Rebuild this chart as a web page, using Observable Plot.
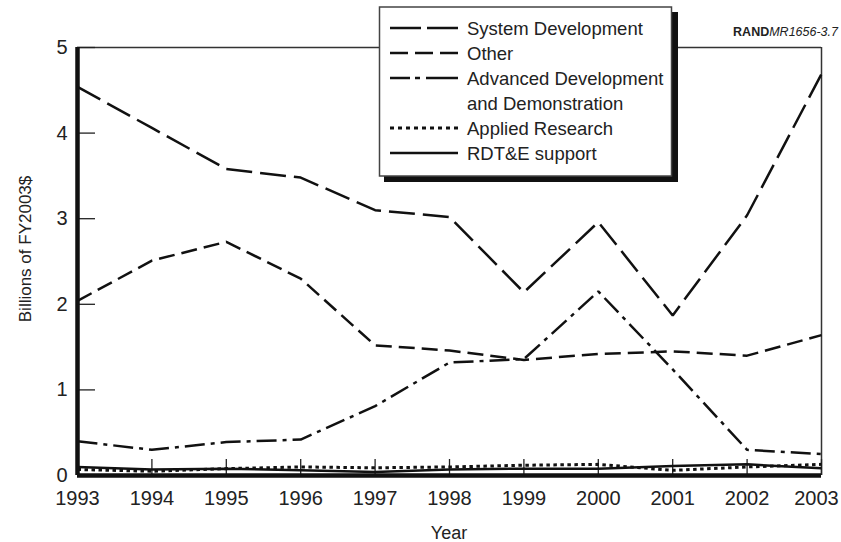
<!DOCTYPE html>
<html>
<head>
<meta charset="utf-8">
<script src="https://cdn.jsdelivr.net/npm/d3@7"></script>
<script src="https://cdn.jsdelivr.net/npm/@observablehq/plot@0.6"></script>
<style>
  html, body { margin: 0; padding: 0; background: #fff; }
  body { width: 841px; height: 542px; overflow: hidden; }
</style>
</head>
<body>
<div id="chart"></div>
<script>
// ---- Data ----
const years = [1993, 1994, 1995, 1996, 1997, 1998, 1999, 2000, 2001, 2002, 2003];
const systemDevelopment = [4.54, 4.06, 3.58, 3.48, 3.10, 3.02, 2.14, 2.96, 1.87, 3.04, 4.69];
const other             = [2.04, 2.51, 2.73, 2.30, 1.52, 1.46, 1.35, 1.42, 1.45, 1.40, 1.64];
const advancedDev       = [0.40, 0.30, 0.39, 0.42, 0.81, 1.32, 1.36, 2.15, 1.24, 0.30, 0.25];
const appliedResearch   = [0.07, 0.05, 0.08, 0.10, 0.09, 0.10, 0.12, 0.13, 0.06, 0.10, 0.13];
const rdteSupport       = [0.10, 0.07, 0.08, 0.06, 0.04, 0.07, 0.08, 0.08, 0.11, 0.13, 0.085];
const yTicks = [0, 1, 2, 3, 4, 5];

const seriesNames = ["System Development", "Other", "Advanced Development\nand Demonstration", "Applied Research", "RDT&E support"];
const seriesValues = [systemDevelopment, other, advancedDev, appliedResearch, rdteSupport];
const chartDash   = ["26,8", "16,7", "20,6,4,6", "3.5,3.5", null];
const legendDash  = ["31,6", "18,7", "20,5,5,6,40", "4,4", null];
const lineWidths  = [2.5, 2.5, 2.5, 3, 2.5];

const W = 841, H = 542;
const mL = 77, mR = 20, mT = 47, mB = 67;
const plotW = W - mL - mR, plotH = H - mT - mB;

const table = (vals) => years.map((y, i) => ({year: y, value: vals[i]}));

const lineMarks = seriesValues.map((vals, k) =>
  Plot.line(table(vals), {
    x: "year", y: "value",
    stroke: "#111",
    strokeWidth: lineWidths[k],
    strokeDasharray: chartDash[k] || undefined,
    strokeLinejoin: "miter",
    strokeLinecap: "butt"
  })
);

const fmt = d => String(d);

const chart = Plot.plot({
  width: W, height: H,
  marginLeft: mL, marginRight: mR, marginTop: mT, marginBottom: mB,
  style: {fontFamily: "'Liberation Sans', Arial, Helvetica, sans-serif", fontSize: "20px", color: "#222", background: "#fff"},
  x: {domain: [1993, 2003], label: null},
  y: {domain: [0, 5], label: null},
  marks: [
    // frame: thin top/right, thick left/bottom
    Plot.ruleY([5], {stroke: "#333", strokeWidth: 1.5}),
    Plot.ruleX([2003], {stroke: "#333", strokeWidth: 1.5}),
    // inward ticks
    Plot.tickX(years, {x: d => d, stroke: "#222", strokeWidth: 1.3, insetTop: plotH - 16}),
    Plot.tickY(yTicks, {y: d => d, stroke: "#222", strokeWidth: 1.3, insetRight: plotW - 18}),
    // series
    ...lineMarks,
    Plot.ruleX([1993], {stroke: "#111", strokeWidth: 4.5}),
    Plot.ruleY([0], {stroke: "#111", strokeWidth: 4.5}),
    Plot.axisX(years.slice(0, -1), {tickSize: 0, tickPadding: 15, tickFormat: fmt, fontSize: 20, fill: "#222"}),
    Plot.axisX(years.slice(-1), {tickSize: 0, tickPadding: 15, tickFormat: fmt, fontSize: 20, fill: "#222", dx: -5}),
    Plot.axisY(yTicks, {tickSize: 0, tickPadding: 10, tickFormat: fmt, fontSize: 20, fill: "#222"})
  ]
});
document.getElementById("chart").appendChild(chart);

// ---- Titles and legend ----
const svg = d3.select(chart);
const font = "'Liberation Sans', Arial, Helvetica, sans-serif";

svg.append("text")
  .attr("transform", "translate(31,249) rotate(-90)")
  .attr("text-anchor", "middle")
  .attr("font-family", font).attr("font-size", 17).attr("fill", "#222")
  .text("Billions of FY2003$");

svg.append("text")
  .attr("x", 449).attr("y", 539)
  .attr("text-anchor", "middle")
  .attr("font-family", font).attr("font-size", 18).attr("fill", "#222")
  .text("Year");

const rand = svg.append("text")
  .attr("x", 838).attr("y", 36)
  .attr("text-anchor", "end")
  .attr("font-family", font).attr("font-size", 12.5).attr("fill", "#222");
rand.append("tspan").attr("font-weight", "bold").text("RAND");
rand.append("tspan").attr("font-style", "italic").text("MR1656-3.7");

const lg = svg.append("g");
lg.append("rect").attr("x", 384).attr("y", 12).attr("width", 294).attr("height", 170).attr("fill", "#111");
lg.append("rect").attr("x", 379.5).attr("y", 7).attr("width", 292).attr("height", 169)
  .attr("fill", "#fff").attr("stroke", "#444").attr("stroke-width", 1.5);

const rowY = [28, 53, 78, 128, 153];
seriesNames.forEach((name, k) => {
  const y = rowY[k];
  const ln = lg.append("line")
    .attr("x1", 390).attr("x2", 458).attr("y1", y).attr("y2", y)
    .attr("stroke", "#111").attr("stroke-width", lineWidths[k]);
  if (legendDash[k]) ln.attr("stroke-dasharray", legendDash[k]);
  name.split("\n").forEach((part, j) => {
    lg.append("text")
      .attr("x", 467).attr("y", y + 6.5 + j * 25)
      .attr("text-anchor", "start")
      .attr("font-family", font).attr("font-size", 18.5).attr("fill", "#222")
      .text(part);
  });
});
</script>
</body>
</html>
